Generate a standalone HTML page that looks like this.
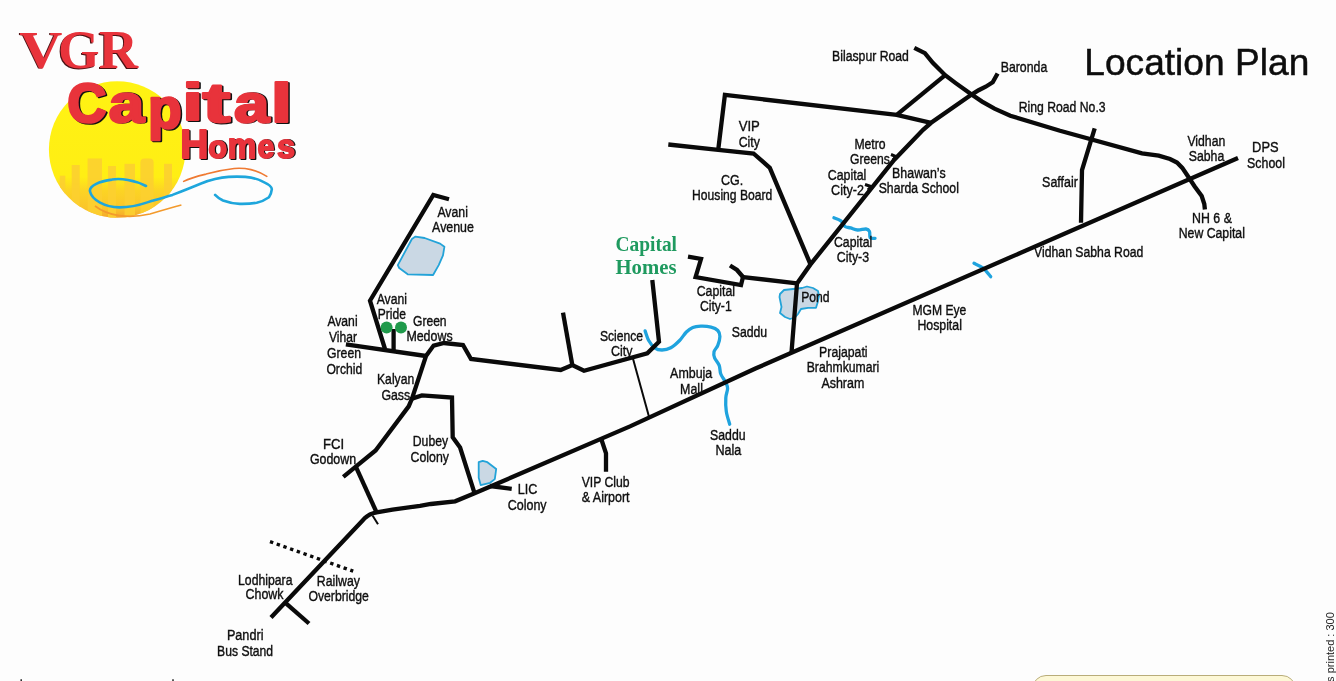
<!DOCTYPE html>
<html><head><meta charset="utf-8">
<style>
html,body{margin:0;padding:0;background:#fdfdfd;}
body{width:1336px;height:681px;overflow:hidden;position:relative;}
svg{position:absolute;left:0;top:0;will-change:transform;}
.rd{fill:none;stroke:#0a0a0a;stroke-width:4.3;stroke-linejoin:miter;stroke-linecap:butt;}
.th{fill:none;stroke:#0a0a0a;stroke-width:2;}
.rw{stroke:#0a0a0a;stroke-width:3.4;stroke-dasharray:3.4 3.7;}
.pd{fill:#cad8e4;stroke:#23a3d8;stroke-width:1.8;stroke-linejoin:round;}
.rv{fill:none;stroke:#1fa3de;stroke-width:3.3;stroke-linejoin:round;stroke-linecap:round;}
.st{fill:none;stroke:#0a0a0a;stroke-width:3;}
text{font-family:"Liberation Sans",sans-serif;font-size:14.7px;fill:#0e0e0e;stroke:#0e0e0e;stroke-width:0.38px;}
.gl{font-family:"Liberation Serif",serif;font-weight:bold;font-size:21px;fill:#1f9a5f;stroke:none;}
.tt{font-size:37px;fill:#0d0d0d;stroke:#0d0d0d;stroke-width:0.5px;}
.vgr{font-family:"Liberation Serif",serif;font-weight:bold;font-size:54px;fill:#e8333b;}
.cap{font-weight:bold;font-size:56px;fill:#e8333b;}
.hom{font-weight:bold;font-size:40px;fill:#e8333b;}
.box{position:absolute;left:1032px;top:675px;width:262px;height:30px;border:1px solid #b9ad7a;border-radius:14px;background:#fdf8d6;}
.vt{position:absolute;left:1323.5px;top:688px;transform-origin:0 0;transform:rotate(-90deg);font-family:"Liberation Sans",sans-serif;font-size:11px;color:#222;white-space:nowrap;}
</style></head><body>
<svg width="1336" height="681" viewBox="0 0 1336 681">

<defs>
 <linearGradient id="sun" x1="0" y1="0" x2="0" y2="1">
  <stop offset="0" stop-color="#fff313"/>
  <stop offset="0.7" stop-color="#ffee14"/>
  <stop offset="0.8" stop-color="#fcd424"/>
  <stop offset="0.93" stop-color="#fac52a"/>
  <stop offset="1" stop-color="#f5a72a"/>
 </linearGradient>
 <clipPath id="sunclip"><circle cx="117.2" cy="149.5" r="68.3"/></clipPath>
</defs>
<circle cx="117.2" cy="149.5" r="68.3" fill="url(#sun)"/>
<g clip-path="url(#sunclip)" fill="#fcd030" opacity="0.9">
 <rect x="59.8" y="175.7" width="5.5" height="45"/>
 <rect x="71.7" y="165" width="8" height="55"/>
 <rect x="87.6" y="158.5" width="14.4" height="62"/>
 <rect x="108" y="166" width="8" height="55"/>
 <rect x="124.5" y="163.8" width="10.5" height="57"/>
 <rect x="140.4" y="158.5" width="13.2" height="62" rx="4"/>
 <rect x="164" y="163.8" width="8" height="57"/>
</g>
<path d="M95,206 C108,216 128,219 150,214 C160,211 172,207.5 181.4,205" fill="none" stroke="#f39a2c" stroke-width="1.6"/>
<path d="M146,186 C135,180 120,178 112,179.6 C100,181 88,186 90.2,192 C92,200 105,207 119.3,207.4 C135,207.5 145,203 152.3,200.8 C160,198.5 165,197 172.5,194.9 C185,190 195,186 200.5,183.7 C210,180 220,177.5 228.6,176.9 C236,176.3 240,176.5 245.4,176.9 C252,177.5 258,179 262.3,181.4 C268,184 272,187 271.8,189.3 C271.5,193 270,195.5 269,197.2 C265,200 260,202 256.7,202.8 C250,204 245,204 239.8,203.9 C233,203.6 227,202 223,200.5 C220,199 217,197 215.1,194.9" fill="none" stroke="#1ea6dc" stroke-width="2.6" stroke-linecap="round"/>
<path d="M183.7,181.4 C190,178 198,176 206.1,174.1 C215,171.5 225,169.5 234.2,168.5 C240,168 246,168.5 251,169.6 C257,171 262,173.5 266.8,176.4" fill="none" stroke="#ef7a32" stroke-width="1.6" stroke-linecap="round"/>
<text transform="matrix(0.5974,0,0,0.5374,18.23,67.89)" style="font-family:'Liberation Serif';font-weight:bold;font-size:100px;fill:#4a1214;stroke:none">V</text>
<text transform="matrix(0.5344,0,0,0.5507,57.09,68.66)" style="font-family:'Liberation Serif';font-weight:bold;font-size:100px;fill:#4a1214;stroke:none">G</text>
<text transform="matrix(0.5449,0,0,0.5422,97.77,68.70)" style="font-family:'Liberation Serif';font-weight:bold;font-size:100px;fill:#4a1214;stroke:none">R</text>
<text transform="matrix(0.5974,0,0,0.5374,19.23,67.59)" style="font-family:'Liberation Serif';font-weight:bold;font-size:100px;fill:#e8333b;stroke:none">V</text>
<text transform="matrix(0.5344,0,0,0.5507,58.09,68.36)" style="font-family:'Liberation Serif';font-weight:bold;font-size:100px;fill:#e8333b;stroke:none">G</text>
<text transform="matrix(0.5449,0,0,0.5422,98.77,68.40)" style="font-family:'Liberation Serif';font-weight:bold;font-size:100px;fill:#e8333b;stroke:none">R</text>
<text transform="matrix(0.5430,0,0,0.5537,68.67,122.96)" style="font-family:'Liberation Sans';font-weight:bold;font-size:100px;fill:#111;stroke:#111;stroke-width:4.74px;stroke-linejoin:round">C</text>
<text transform="matrix(0.6377,0,0,0.5421,110.13,122.47)" style="font-family:'Liberation Sans';font-weight:bold;font-size:100px;fill:#111;stroke:#111;stroke-width:4.41px;stroke-linejoin:round">a</text>
<text transform="matrix(0.5517,0,0,0.5769,149.56,128.53)" style="font-family:'Liberation Sans';font-weight:bold;font-size:100px;fill:#111;stroke:#111;stroke-width:4.61px;stroke-linejoin:round">p</text>
<text transform="matrix(0.7507,0,0,0.5092,183.76,120.50)" style="font-family:'Liberation Sans';font-weight:bold;font-size:100px;fill:#111;stroke:#111;stroke-width:4.13px;stroke-linejoin:round">i</text>
<text transform="matrix(0.8490,0,0,0.5491,203.86,123.02)" style="font-family:'Liberation Sans';font-weight:bold;font-size:100px;fill:#111;stroke:#111;stroke-width:3.72px;stroke-linejoin:round">t</text>
<text transform="matrix(0.6358,0,0,0.5421,235.44,122.47)" style="font-family:'Liberation Sans';font-weight:bold;font-size:100px;fill:#111;stroke:#111;stroke-width:4.41px;stroke-linejoin:round">a</text>
<text transform="matrix(0.7871,0,0,0.5589,271.90,123.00)" style="font-family:'Liberation Sans';font-weight:bold;font-size:100px;fill:#111;stroke:#111;stroke-width:3.86px;stroke-linejoin:round">l</text>
<text transform="matrix(0.3912,0,0,0.3983,181.48,158.80)" style="font-family:'Liberation Sans';font-weight:bold;font-size:100px;fill:#111;stroke:#111;stroke-width:4.56px;stroke-linejoin:round">H</text>
<text transform="matrix(0.3097,0,0,0.3213,209.39,158.49)" style="font-family:'Liberation Sans';font-weight:bold;font-size:100px;fill:#111;stroke:#111;stroke-width:5.71px;stroke-linejoin:round">o</text>
<text transform="matrix(0.3205,0,0,0.3435,228.89,158.80)" style="font-family:'Liberation Sans';font-weight:bold;font-size:100px;fill:#111;stroke:#111;stroke-width:5.42px;stroke-linejoin:round">m</text>
<text transform="matrix(0.3023,0,0,0.3304,258.62,158.48)" style="font-family:'Liberation Sans';font-weight:bold;font-size:100px;fill:#111;stroke:#111;stroke-width:5.69px;stroke-linejoin:round">e</text>
<text transform="matrix(0.3250,0,0,0.3374,278.16,158.47)" style="font-family:'Liberation Sans';font-weight:bold;font-size:100px;fill:#111;stroke:#111;stroke-width:5.43px;stroke-linejoin:round">s</text>
<text transform="matrix(0.5430,0,0,0.5537,67.17,122.36)" style="font-family:'Liberation Sans';font-weight:bold;font-size:100px;fill:#e8333b;stroke:#e8333b;stroke-width:4.74px;stroke-linejoin:round">C</text>
<text transform="matrix(0.6377,0,0,0.5421,108.63,121.87)" style="font-family:'Liberation Sans';font-weight:bold;font-size:100px;fill:#e8333b;stroke:#e8333b;stroke-width:4.41px;stroke-linejoin:round">a</text>
<text transform="matrix(0.5517,0,0,0.5769,148.06,127.93)" style="font-family:'Liberation Sans';font-weight:bold;font-size:100px;fill:#e8333b;stroke:#e8333b;stroke-width:4.61px;stroke-linejoin:round">p</text>
<text transform="matrix(0.7507,0,0,0.5092,182.26,119.90)" style="font-family:'Liberation Sans';font-weight:bold;font-size:100px;fill:#e8333b;stroke:#e8333b;stroke-width:4.13px;stroke-linejoin:round">i</text>
<text transform="matrix(0.8490,0,0,0.5491,202.36,122.42)" style="font-family:'Liberation Sans';font-weight:bold;font-size:100px;fill:#e8333b;stroke:#e8333b;stroke-width:3.72px;stroke-linejoin:round">t</text>
<text transform="matrix(0.6358,0,0,0.5421,233.94,121.87)" style="font-family:'Liberation Sans';font-weight:bold;font-size:100px;fill:#e8333b;stroke:#e8333b;stroke-width:4.41px;stroke-linejoin:round">a</text>
<text transform="matrix(0.7871,0,0,0.5589,270.40,122.40)" style="font-family:'Liberation Sans';font-weight:bold;font-size:100px;fill:#e8333b;stroke:#e8333b;stroke-width:3.86px;stroke-linejoin:round">l</text>
<text transform="matrix(0.3912,0,0,0.3983,180.28,158.30)" style="font-family:'Liberation Sans';font-weight:bold;font-size:100px;fill:#e8333b;stroke:#e8333b;stroke-width:4.56px;stroke-linejoin:round">H</text>
<text transform="matrix(0.3097,0,0,0.3213,208.19,157.99)" style="font-family:'Liberation Sans';font-weight:bold;font-size:100px;fill:#e8333b;stroke:#e8333b;stroke-width:5.71px;stroke-linejoin:round">o</text>
<text transform="matrix(0.3205,0,0,0.3435,227.69,158.30)" style="font-family:'Liberation Sans';font-weight:bold;font-size:100px;fill:#e8333b;stroke:#e8333b;stroke-width:5.42px;stroke-linejoin:round">m</text>
<text transform="matrix(0.3023,0,0,0.3304,257.42,157.98)" style="font-family:'Liberation Sans';font-weight:bold;font-size:100px;fill:#e8333b;stroke:#e8333b;stroke-width:5.69px;stroke-linejoin:round">e</text>
<text transform="matrix(0.3250,0,0,0.3374,276.96,157.97)" style="font-family:'Liberation Sans';font-weight:bold;font-size:100px;fill:#e8333b;stroke:#e8333b;stroke-width:5.43px;stroke-linejoin:round">s</text>

<polygon class="pd" points="415.5,236.6 424.6,238.0 440.1,243.6 444.4,246.8 443.0,255.3 438.7,265.1 433.1,275.0 407.7,274.3 399.2,268.0 397.8,265.1 411.9,239.0"/>
<polygon class="pd" points="478.7,462.2 482.7,460.9 487.4,462.2 496.2,469.0 494.8,479.1 490.1,482.8 480.7,485.1 478.7,477.7"/>
<polygon class="pd" points="780.0,294.0 784.0,290.0 793.0,289.0 802.0,288.0 807.0,286.5 813.0,288.0 818.0,291.0 819.0,296.0 817.5,303.0 816.0,307.8 808.0,307.8 801.0,309.0 798.0,314.0 795.0,317.5 790.0,319.0 785.0,317.0 780.0,313.0 781.5,307.0 779.5,297.0"/>
<path class="rv" d="M645.1,330.9 C645.7,332.5 647.1,337.7 648.7,340.5 C650.3,343.3 652.4,346.2 654.6,347.8 C656.8,349.4 659.3,350.0 662.0,350.0 C664.7,350.0 667.9,349.4 670.8,347.8 C673.7,346.2 677.0,343.1 679.6,340.5 C682.2,337.9 684.2,334.2 686.4,332.0 C688.6,329.8 690.4,328.5 692.8,327.5 C695.2,326.5 697.8,326.3 700.8,326.2 C703.8,326.1 708.2,326.4 711.0,327.1 C713.8,327.8 716.3,328.9 717.8,330.5 C719.3,332.1 719.9,334.0 719.9,336.5 C719.9,339.0 718.8,342.8 717.8,345.3 C716.8,347.9 714.5,349.7 714.0,351.8 C713.5,353.9 713.7,355.5 714.6,357.8 C715.5,360.1 718.2,362.7 719.2,365.4 C720.2,368.1 719.7,371.1 720.8,374.0 C721.9,376.9 724.7,380.1 725.8,382.5 C726.9,384.9 727.6,386.1 727.6,388.6 C727.6,391.2 726.0,394.0 725.8,397.8 C725.6,401.6 725.6,407.0 726.3,411.4 C726.9,415.8 729.1,422.1 729.7,424.2"/>
<path class="rv" d="M833.9,217.8 C835.1,218.3 839.0,219.5 840.9,220.9 C842.8,222.3 843.4,225.3 845.0,226.5 C846.6,227.7 848.5,227.3 850.6,227.9 C852.7,228.5 855.0,229.8 857.6,230.0 C860.2,230.2 864.0,228.8 866.0,229.0 C868.0,229.2 868.8,230.0 869.5,231.4 C870.2,232.8 869.3,236.5 870.2,237.7 C871.1,238.8 874.2,238.2 875.0,238.3"/>
<path class="rv" d="M974.0,263.3 C975.5,264.1 980.2,265.8 983.0,268.0 C985.8,270.2 989.4,275.2 990.7,276.7"/>
<polyline class="rd" points="271.0,617.5 362.6,520.4 364.8,518.1 367.2,516.2 370.0,514.4 373.2,513.2 376.6,512.4 392.5,509.7 420.0,505.8 430.8,504.0 455.1,501.3 474.6,493.3 630.0,426.4 756.0,368.3 1238.0,158.0"/>
<polyline class="rd" points="286.0,603.4 309.0,623.5"/>
<polyline class="rd" points="376.6,512.4 355.8,466.6"/>
<polyline class="rd" points="343.3,476.9 355.8,466.6 375.6,450.5 408.7,406.4 412.0,398.6 426.0,356.0 433.6,345.6 444.0,343.0 463.0,345.0 471.0,359.0 560.7,370.0 572.3,365.0 584.0,370.7 647.3,353.3 659.0,341.7 652.3,280.0"/>
<polyline class="rd" points="345.9,344.4 426.0,356.0"/>
<polyline class="rd" points="449.0,199.3 433.3,195.0 370.0,300.7 385.0,349.0"/>
<polyline class="rd" points="393.6,329.0 393.6,350.4"/>
<polyline class="rd" points="572.3,365.0 563.0,312.7"/>
<polyline class="rd" points="412.0,398.6 421.9,395.4 452.0,397.6 452.7,437.3 460.1,447.5 474.6,493.3"/>
<polyline class="rd" points="490.1,486.0 511.7,488.8"/>
<polyline class="rd" points="601.0,438.3 606.0,453.3 606.0,471.7"/>
<polyline class="rd" points="668.3,144.5 718.2,149.9 753.5,153.5 769.8,167.8 810.5,264.4"/>
<polyline class="rd" points="718.2,149.9 724.9,94.9 896.7,114.9 931.1,122.8"/>
<polyline class="rd" points="896.7,114.9 945.2,75.2"/>
<polyline class="rd" points="914.3,47.9 924.9,53.2 932.8,62.9 945.2,75.2 955.7,83.1 971.6,94.6 982.1,101.6 994.5,108.7 1010.3,115.7 1060.0,130.7 1142.0,153.3 1158.7,155.7 1170.0,159.0 1177.0,162.6 1182.3,167.9 1187.6,175.8 1194.7,186.4 1201.7,196.1 1204.3,204.0 1204.9,209.5"/>
<polyline class="rd" points="997.6,73.5 992.7,82.3 985.7,86.7 978.6,90.2 971.6,94.6 931.1,122.8 923.1,129.8 894.1,159.9 810.5,264.4 797.0,283.4 791.5,352.5"/>
<polyline class="rd" points="1094.7,128.3 1082.0,170.0 1081.0,222.7"/>
<polyline class="rd" points="688.0,256.6 701.0,259.0 695.6,277.0 741.0,285.0 743.0,277.0 797.0,283.4"/>
<polyline class="rd" points="730.0,265.5 737.0,270.0 743.0,277.0"/>
<polyline class="th" points="372.7,515.7 378.0,524.3"/>
<polyline class="th" points="632.8,358.0 648.8,416.0"/>
<line class="rw" x1="270" y1="541.6" x2="353.2" y2="571.2"/>
<circle cx="386.6" cy="327.6" r="6" fill="#1f9a4b"/>
<circle cx="401" cy="327.6" r="6" fill="#1f9a4b"/>
<polyline class="st" points="891,154.5 896,156.5 893,160"/>
<polyline class="st" points="865,184.5 871,186.5 868,190"/>
<text x="832.1" y="60.7" textLength="76.8" lengthAdjust="spacingAndGlyphs">Bilaspur Road</text>
<text x="1000.7" y="71.7" textLength="46.6" lengthAdjust="spacingAndGlyphs">Baronda</text>
<text x="1018.7" y="111.7" textLength="86.9" lengthAdjust="spacingAndGlyphs">Ring Road No.3</text>
<text x="854.4" y="149.3" textLength="31.2" lengthAdjust="spacingAndGlyphs">Metro</text>
<text x="850.1" y="164.3" textLength="39.8" lengthAdjust="spacingAndGlyphs">Greens</text>
<text x="827.7" y="180.0" textLength="38.6" lengthAdjust="spacingAndGlyphs">Capital</text>
<text x="831.1" y="195.0" textLength="32.8" lengthAdjust="spacingAndGlyphs">City-2</text>
<text x="892.1" y="178.3" textLength="53.5" lengthAdjust="spacingAndGlyphs">Bhawan’s</text>
<text x="878.7" y="193.3" textLength="80.2" lengthAdjust="spacingAndGlyphs">Sharda School</text>
<text x="1042.1" y="187.3" textLength="35.8" lengthAdjust="spacingAndGlyphs">Saffair</text>
<text x="1187.4" y="146.0" textLength="37.9" lengthAdjust="spacingAndGlyphs">Vidhan</text>
<text x="1188.7" y="160.7" textLength="35.6" lengthAdjust="spacingAndGlyphs">Sabha</text>
<text x="1252.1" y="151.7" textLength="26.5" lengthAdjust="spacingAndGlyphs">DPS</text>
<text x="1247.1" y="167.7" textLength="37.8" lengthAdjust="spacingAndGlyphs">School</text>
<text x="1192.1" y="222.7" textLength="39.8" lengthAdjust="spacingAndGlyphs">NH 6 &amp;</text>
<text x="1178.7" y="238.3" textLength="66.2" lengthAdjust="spacingAndGlyphs">New Capital</text>
<text x="1034.1" y="256.7" textLength="109.2" lengthAdjust="spacingAndGlyphs">Vidhan Sabha Road</text>
<text x="738.7" y="131.0" textLength="21.2" lengthAdjust="spacingAndGlyphs">VIP</text>
<text x="738.7" y="146.7" textLength="21.2" lengthAdjust="spacingAndGlyphs">City</text>
<text x="721.1" y="185.0" textLength="22.2" lengthAdjust="spacingAndGlyphs">CG.</text>
<text x="692.1" y="200.0" textLength="80.2" lengthAdjust="spacingAndGlyphs">Housing Board</text>
<text x="834.0" y="246.7" textLength="38.2" lengthAdjust="spacingAndGlyphs">Capital</text>
<text x="836.8" y="262.0" textLength="32.3" lengthAdjust="spacingAndGlyphs">City-3</text>
<text x="801.2" y="302.0" textLength="28.4" lengthAdjust="spacingAndGlyphs">Pond</text>
<text x="696.7" y="296.4" textLength="38.3" lengthAdjust="spacingAndGlyphs">Capital</text>
<text x="699.9" y="311.0" textLength="31.8" lengthAdjust="spacingAndGlyphs">City-1</text>
<text x="731.7" y="337.0" textLength="35.5" lengthAdjust="spacingAndGlyphs">Saddu</text>
<text x="912.4" y="314.6" textLength="53.9" lengthAdjust="spacingAndGlyphs">MGM Eye</text>
<text x="917.4" y="330.0" textLength="44.5" lengthAdjust="spacingAndGlyphs">Hospital</text>
<text x="819.1" y="356.7" textLength="48.5" lengthAdjust="spacingAndGlyphs">Prajapati</text>
<text x="806.7" y="372.3" textLength="72.6" lengthAdjust="spacingAndGlyphs">Brahmkumari</text>
<text x="821.4" y="387.7" textLength="42.9" lengthAdjust="spacingAndGlyphs">Ashram</text>
<text x="670.1" y="378.3" textLength="42.2" lengthAdjust="spacingAndGlyphs">Ambuja</text>
<text x="680.1" y="393.5" textLength="22.8" lengthAdjust="spacingAndGlyphs">Mall</text>
<text x="437.4" y="216.7" textLength="30.5" lengthAdjust="spacingAndGlyphs">Avani</text>
<text x="432.1" y="232.3" textLength="41.8" lengthAdjust="spacingAndGlyphs">Avenue</text>
<text x="376.7" y="304.0" textLength="30.2" lengthAdjust="spacingAndGlyphs">Avani</text>
<text x="377.7" y="319.0" textLength="28.2" lengthAdjust="spacingAndGlyphs">Pride</text>
<text x="413.0" y="325.6" textLength="33.6" lengthAdjust="spacingAndGlyphs">Green</text>
<text x="406.4" y="341.0" textLength="46.2" lengthAdjust="spacingAndGlyphs">Medows</text>
<text x="599.9" y="341.0" textLength="43.2" lengthAdjust="spacingAndGlyphs">Science</text>
<text x="610.9" y="356.0" textLength="21.5" lengthAdjust="spacingAndGlyphs">City</text>
<text x="327.4" y="326.0" textLength="30.2" lengthAdjust="spacingAndGlyphs">Avani</text>
<text x="329.0" y="341.6" textLength="28.0" lengthAdjust="spacingAndGlyphs">Vihar</text>
<text x="327.0" y="358.4" textLength="34.0" lengthAdjust="spacingAndGlyphs">Green</text>
<text x="326.4" y="373.6" textLength="35.8" lengthAdjust="spacingAndGlyphs">Orchid</text>
<text x="377.0" y="384.4" textLength="37.2" lengthAdjust="spacingAndGlyphs">Kalyan</text>
<text x="381.4" y="400.0" textLength="28.8" lengthAdjust="spacingAndGlyphs">Gass</text>
<text x="323.1" y="449.4" textLength="21.1" lengthAdjust="spacingAndGlyphs">FCI</text>
<text x="309.9" y="464.0" textLength="46.2" lengthAdjust="spacingAndGlyphs">Godown</text>
<text x="412.8" y="446.3" textLength="35.3" lengthAdjust="spacingAndGlyphs">Dubey</text>
<text x="410.6" y="462.2" textLength="38.3" lengthAdjust="spacingAndGlyphs">Colony</text>
<text x="581.7" y="486.7" textLength="47.9" lengthAdjust="spacingAndGlyphs">VIP Club</text>
<text x="581.7" y="501.7" textLength="47.9" lengthAdjust="spacingAndGlyphs">&amp; Airport</text>
<text x="517.7" y="494.0" textLength="19.6" lengthAdjust="spacingAndGlyphs">LIC</text>
<text x="507.7" y="510.0" textLength="38.9" lengthAdjust="spacingAndGlyphs">Colony</text>
<text x="710.1" y="440.0" textLength="35.5" lengthAdjust="spacingAndGlyphs">Saddu</text>
<text x="715.4" y="455.0" textLength="25.9" lengthAdjust="spacingAndGlyphs">Nala</text>
<text x="238.0" y="584.6" textLength="54.5" lengthAdjust="spacingAndGlyphs">Lodhipara</text>
<text x="245.5" y="598.9" textLength="38.0" lengthAdjust="spacingAndGlyphs">Chowk</text>
<text x="316.8" y="586.0" textLength="43.1" lengthAdjust="spacingAndGlyphs">Railway</text>
<text x="308.4" y="601.3" textLength="60.5" lengthAdjust="spacingAndGlyphs">Overbridge</text>
<text x="226.9" y="640.0" textLength="36.6" lengthAdjust="spacingAndGlyphs">Pandri</text>
<text x="217.1" y="655.5" textLength="56.0" lengthAdjust="spacingAndGlyphs">Bus Stand</text>
<text class="gl" x="615.5" y="251" textLength="61.5" lengthAdjust="spacingAndGlyphs">Capital</text>
<text class="gl" x="615.5" y="273.6" textLength="61" lengthAdjust="spacingAndGlyphs">Homes</text>
<text class="tt" x="1084.3" y="75" textLength="225" lengthAdjust="spacingAndGlyphs">Location Plan</text>
<line x1="21.2" y1="679.3" x2="21.2" y2="681" stroke="#222" stroke-width="1.5"/>
<line x1="173" y1="679.3" x2="173" y2="681" stroke="#222" stroke-width="1.5"/>
</svg>
<div class="box"></div>
<div class="vt">es printed : 300</div>
</body></html>
